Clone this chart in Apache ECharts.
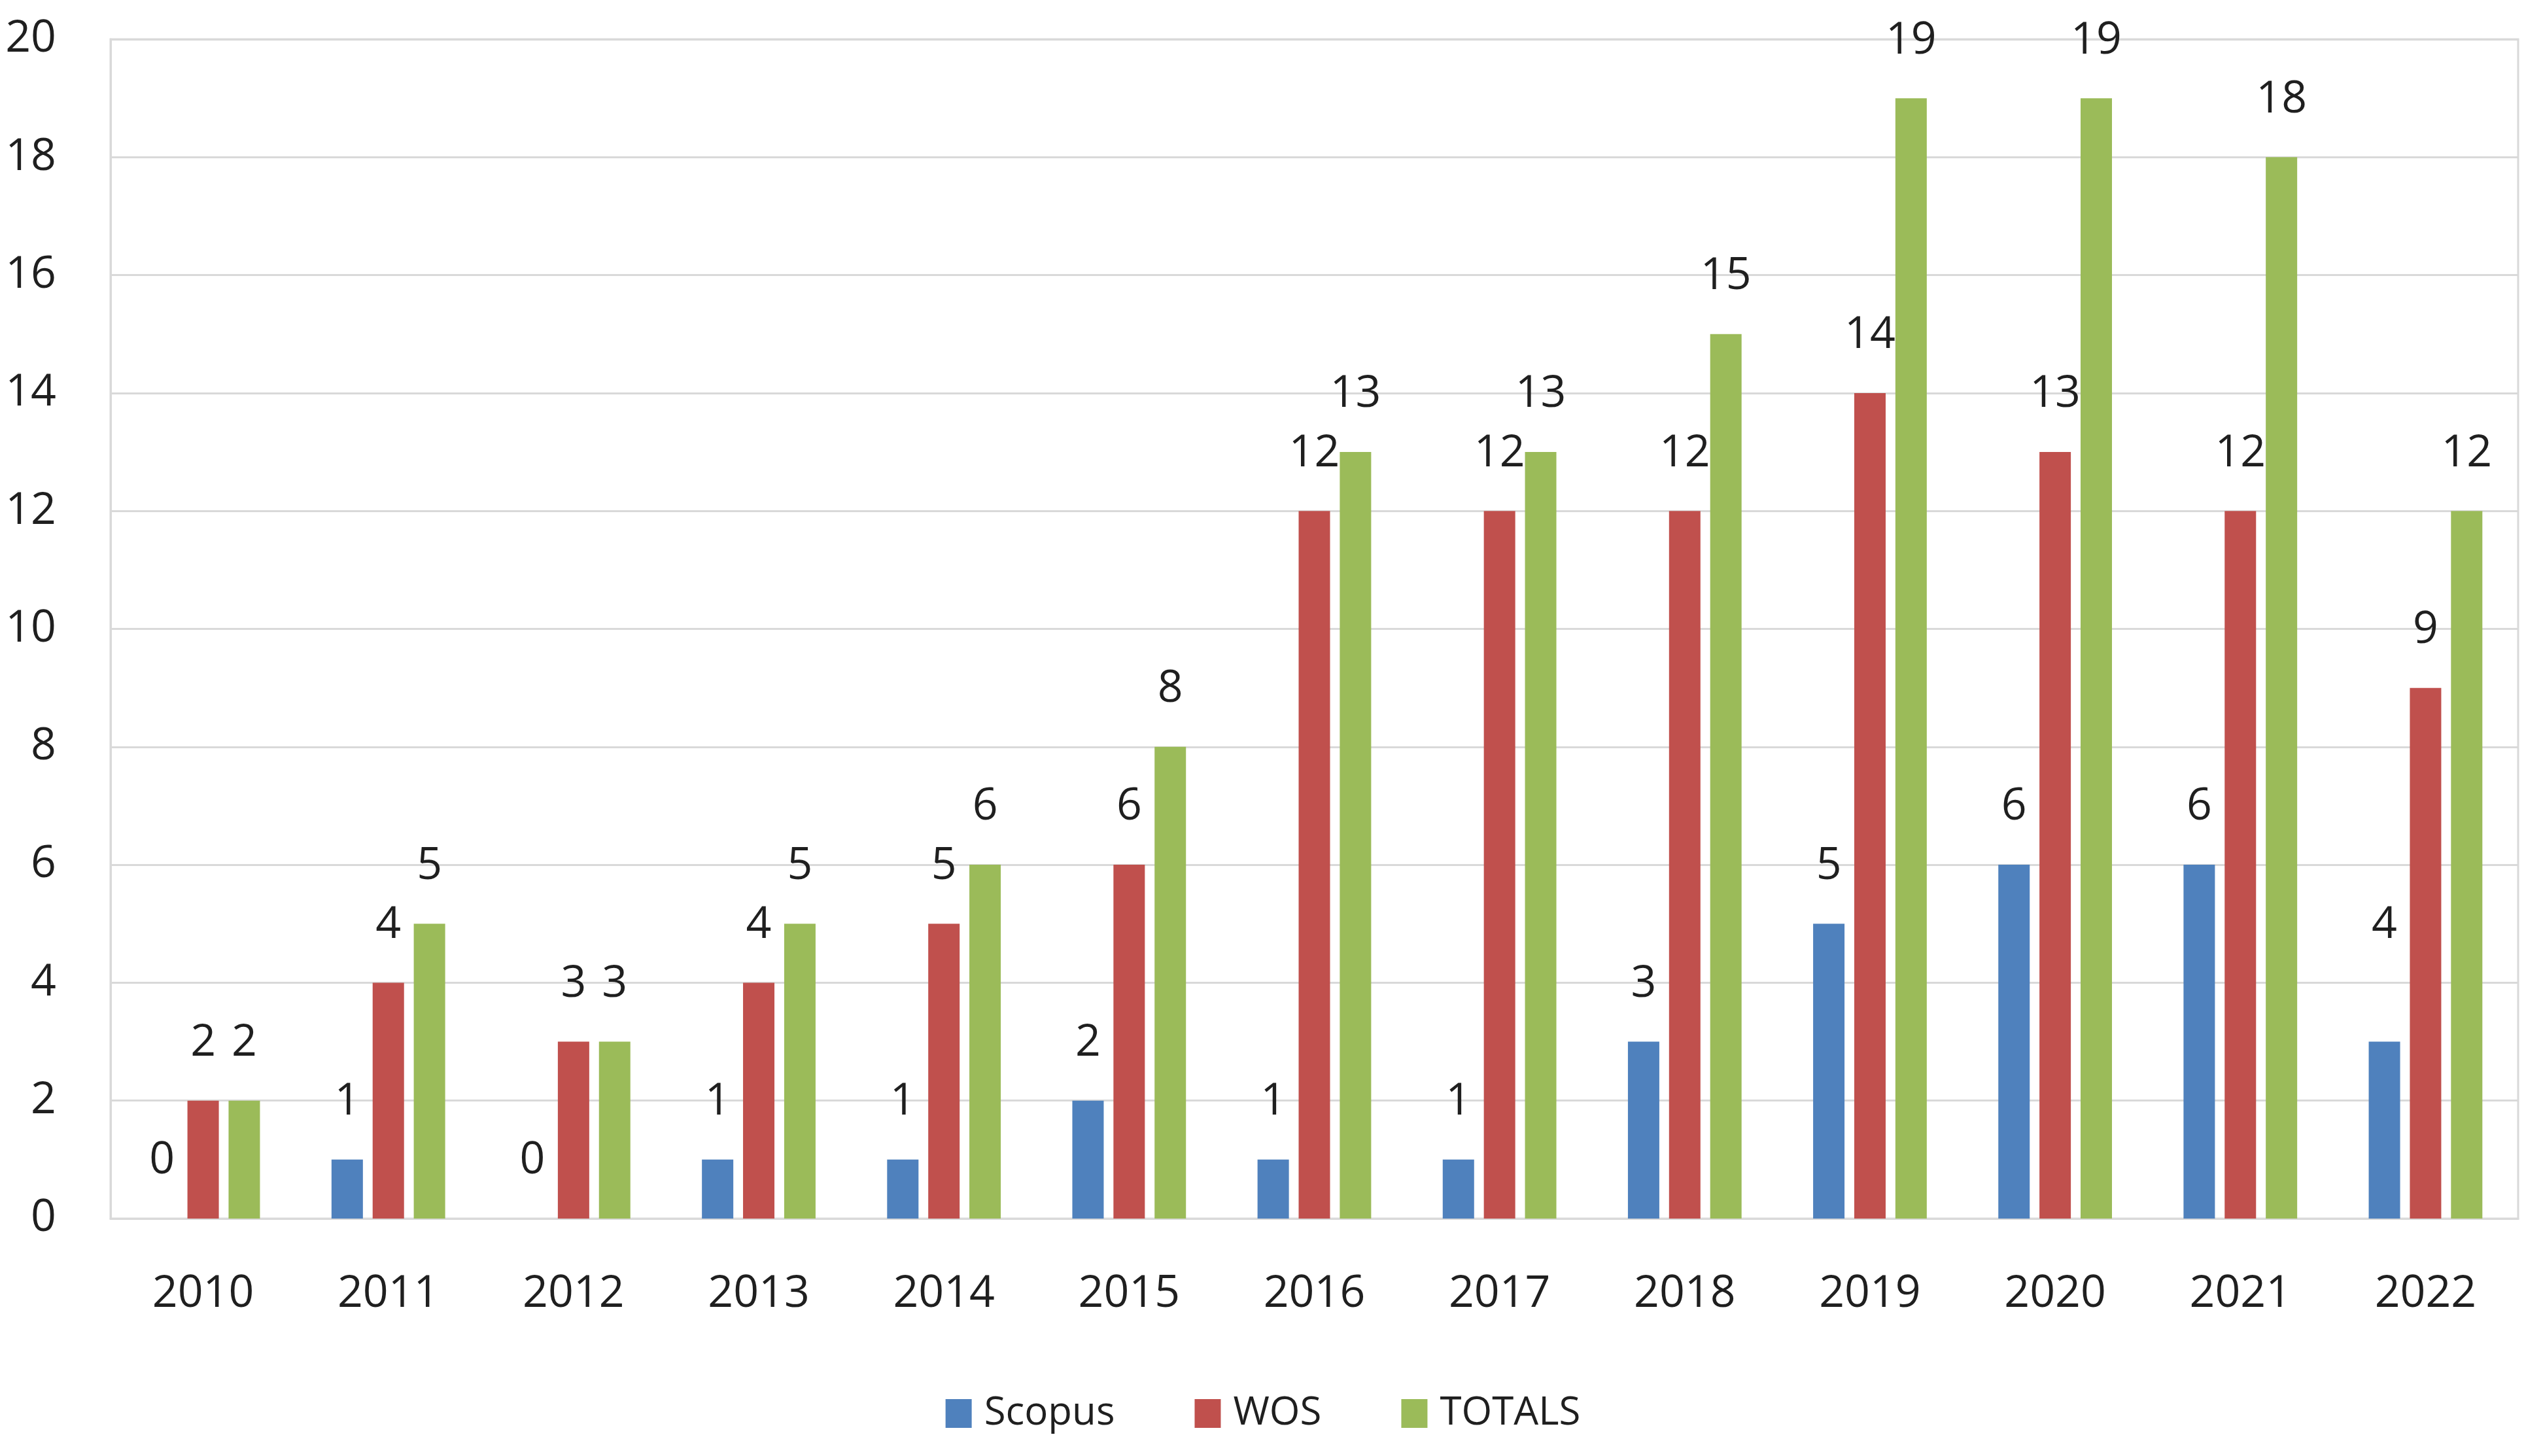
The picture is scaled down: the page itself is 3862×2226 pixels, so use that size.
<!DOCTYPE html>
<html>
<head>
<meta charset="utf-8">
<script src="https://cdn.jsdelivr.net/npm/echarts@6/dist/echarts.min.js"></script>
<style>
  html, body { margin: 0; padding: 0; background: #fff; }
  #chart { width: 3862px; height: 2226px; }
</style>
</head>
<body>
<div id="chart"></div>
<script>
// 数据
var years = ['2010', '2011', '2012', '2013', '2014', '2015', '2016', '2017', '2018', '2019', '2020', '2021', '2022'];
var scopus = [0, 1, 0, 1, 1, 2, 1, 1, 3, 5, 6, 6, 3];
var wos = [2, 4, 3, 4, 5, 6, 12, 12, 12, 14, 13, 12, 9];
var totals = [2, 5, 3, 5, 6, 8, 13, 13, 15, 19, 19, 18, 12];
// labels as printed on the chart (2022 Scopus says 4)
var scopusLabels = [0, 1, 0, 1, 1, 2, 1, 1, 3, 5, 6, 6, 4];
var wosLabels = [2, 4, 3, 4, 5, 6, 12, 12, 12, 14, 13, 12, 9];
var totalsLabels = [2, 5, 3, 5, 6, 8, 13, 13, 15, 19, 19, 18, 12];
var yTicks = { min: 0, max: 20, interval: 2 };

var FONT = 'Open Sans';
var TXT = '#1f1f1f';

var chart = echarts.init(document.getElementById('chart'));

function realBar(name, data, color) {
    return {
        name: name,
        type: 'bar',
        xAxisIndex: 0,
        data: data,
        barWidth: 48,
        barGap: '31%',
        itemStyle: { color: color }
    };
}

// invisible bars on a twin axis, only to carry the value labels
function labelBar(name, data) {
    return {
        name: name + '-label',
        type: 'bar',
        xAxisIndex: 1,
        data: data,
        barWidth: 48,
        barGap: '31%',
        silent: true,
        itemStyle: { color: 'rgba(0,0,0,0)' },
        label: {
            show: true,
            position: 'top',
            distance: 54,
            color: TXT,
            fontFamily: FONT,
            fontSize: 68
        }
    };
}

var option = {
    backgroundColor: '#ffffff',
    animation: false,
    textStyle: { fontFamily: FONT },
    grid: {
        left: 169,
        right: 12,
        top: 60,
        bottom: 363,
        show: true,
        borderColor: '#d9d9d9',
        borderWidth: 3
    },
    legend: {
        data: ['Scopus', 'WOS', 'TOTALS'],
        left: 'center',
        top: 2126,
        itemWidth: 40,
        itemHeight: 44,
        itemGap: 122,
        icon: 'rect',
        textStyle: { color: TXT, fontFamily: FONT, fontSize: 60, padding: [0, 0, 0, 14] }
    },
    xAxis: [{
        type: 'category',
        data: years,
        axisLine: { lineStyle: { color: '#d9d9d9', width: 3 } },
        axisTick: { show: false },
        axisLabel: { color: TXT, fontFamily: FONT, fontSize: 68, margin: 82 }
    }, {
        type: 'category',
        data: years,
        show: false
    }],
    yAxis: {
        type: 'value',
        min: yTicks.min,
        max: yTicks.max,
        interval: yTicks.interval,
        axisLine: { show: true, lineStyle: { color: '#d9d9d9', width: 3 } },
        axisTick: { show: false },
        splitLine: { lineStyle: { color: '#d9d9d9', width: 3 } },
        axisLabel: { color: TXT, fontFamily: FONT, fontSize: 68, margin: 83 }
    },
    series: [
        realBar('Scopus', scopus, '#4f81bd'),
        realBar('WOS', wos, '#c0504d'),
        realBar('TOTALS', totals, '#9bbb59'),
        labelBar('Scopus', scopusLabels),
        labelBar('WOS', wosLabels),
        labelBar('TOTALS', totalsLabels)
    ]
};

chart.setOption(option);
</script>
</body>
</html>
